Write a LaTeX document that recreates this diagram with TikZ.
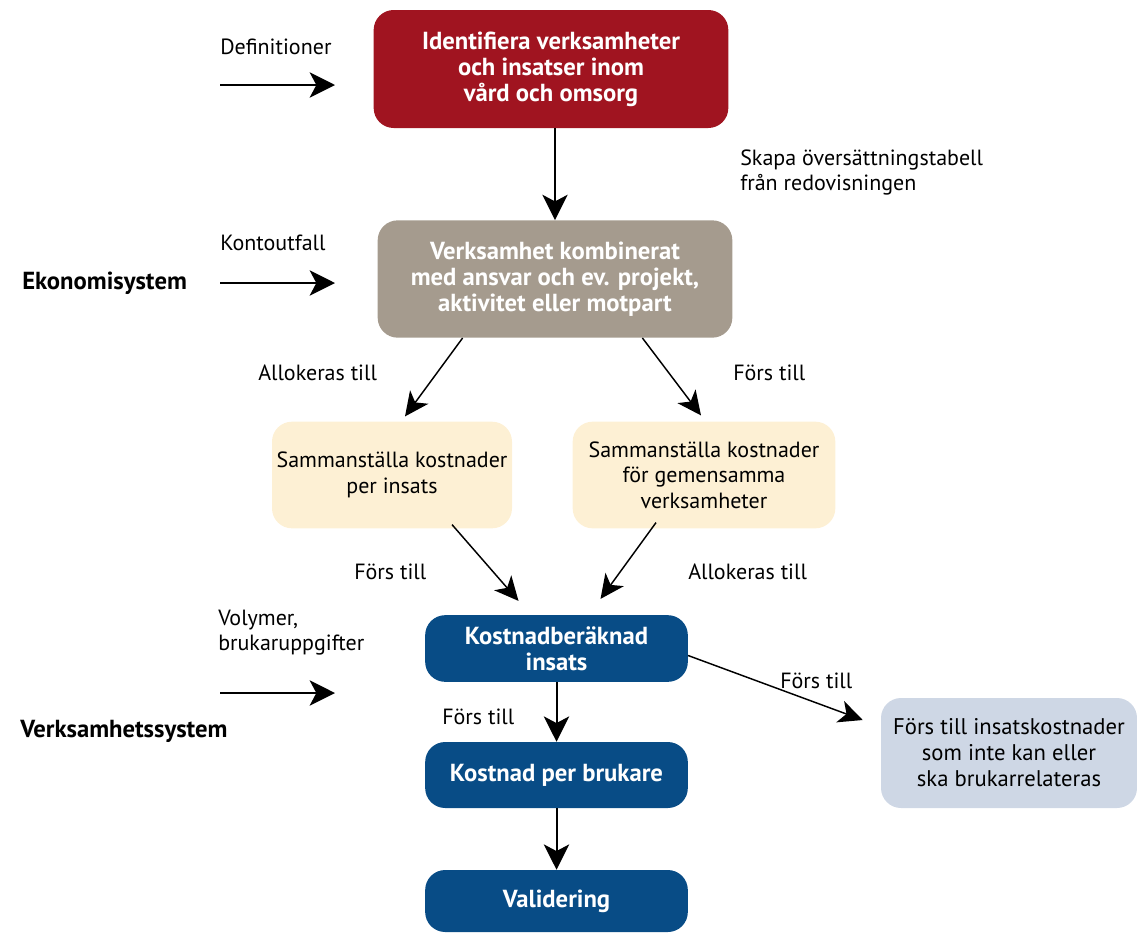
\documentclass[tikz,border=0pt]{standalone}
\usepackage{fontspec}
\setmainfont{PT Sans}
\usepackage{xcolor}
\usepackage{tikz}
\usetikzlibrary{arrows.meta}
\usetikzlibrary{calc}
\usetikzlibrary{positioning}
\definecolor{boxred}{RGB}{160,20,32}
\definecolor{boxtaupe}{RGB}{165,155,142}
\definecolor{boxcream}{RGB}{253,240,212}
\definecolor{boxblue}{RGB}{8,76,134}
\definecolor{boxgrey}{RGB}{206,215,229}

\begin{document}
\begin{tikzpicture}[x=0.75pt,y=-0.75pt,
	box/.style={rounded corners=15pt,align=center,inner sep=2pt,font=\fontsize{18.5}{19.5}\selectfont\bfseries,text=white},
	softbox/.style={rounded corners=15pt,align=center,inner sep=2pt,font=\fontsize{16.5}{19}\selectfont,text=black},
	lab/.style={font=\fontsize{16.5}{18.5}\selectfont,align=left,inner sep=0pt},
	sys/.style={font=\fontsize{18.5}{20}\selectfont\bfseries,inner sep=0pt},
	arr/.style={line width=1.5pt,-{Stealth[length=19pt,width=19pt,inset=5pt]}},
	darr/.style={line width=1.1pt,-{Stealth[length=18pt,width=17pt,inset=5pt]}}]
	\useasboundingbox (0,0) rectangle (1137,932);
	
	\node [box,fill=boxred,minimum width=266pt,minimum height=88.5pt] (ident) at (551,69) {Identifiera verksamheter\\och insatser inom\\vård och omsorg};
	\node [box,fill=boxtaupe,minimum width=266pt,minimum height=88pt] (verks) at (555,279) {Verksamhet kombinerat\\med ansvar och ev. projekt,\\aktivitet eller motpart};
	\node [softbox,fill=boxcream,minimum width=180pt,minimum height=80pt] (sumA) at (392,475) {Sammanställa kostnader\\per insats};
	\node [softbox,fill=boxcream,minimum width=197pt,minimum height=80pt] (sumB) at (704,475) {Sammanställa kostnader\\för gemensamma\\verksamheter};
	\node [box,fill=boxblue,minimum width=197pt,minimum height=50pt] (kalk) at (556.5,648.5) {Kostnadberäknad\\insats};
	\node [box,fill=boxblue,minimum width=197pt,minimum height=49.5pt] (brukare) at (556.5,775) {Kostnad per brukare};
	\node [box,fill=boxblue,minimum width=197pt,minimum height=46.5pt] (valid) at (556.5,901) {Validering};
	\node [softbox,fill=boxgrey,minimum width=192pt,minimum height=82.5pt,font=\fontsize{17}{19.5}\selectfont] (rest) at (1009,753) {Förs till insatskostnader\\som inte kan eller\\ska brukarrelateras};
	
	% inflows from the left
	\coordinate [] (D1) at (220,85);
	\coordinate [] (D2) at (335,85);
	\coordinate [] (K1) at (220,283);
	\coordinate [] (K2) at (335,283);
	\coordinate [] (V1) at (220,693);
	\coordinate [] (V2) at (335,693);
	\draw[arr] (D1) -- (D2);
	\draw[arr] (K1) -- (K2);
	\draw[arr] (V1) -- (V2);
	\node [lab,anchor=west] (defin) at (220,47) {Definitioner};
	\node [lab,anchor=west] (konto) at (220,243) {Kontoutfall};
	\node [lab,anchor=north west] (volym) at (218,610) {Volymer,\\brukaruppgifter};
	\node [sys,anchor=west] (ekon) at (22,283) {Ekonomisystem};
	\node [sys,anchor=west] (vsys) at (20,731) {Verksamhetssystem};
	\node [lab,anchor=north west] (skapa) at (740,150) {Skapa översättningstabell\\från redovisningen};
	
	\draw[arr] (verks.north |- ident.south) -- (verks.north);
	\draw[darr] ($(verks.south west)!.24!(verks.south east)$) -- ($(sumA.north)+(13,-5)$);
	\draw[darr] ($(verks.south west)!.746!(verks.south east)$) -- ($(sumB.north)+(-3,-6)$);
	\draw[darr] ($(sumA.south)+(60,-4)$) -- ($(kalk.north)+(-38,-14)$);
	\draw[darr] ($(sumB.south)+(-48,-6)$) -- ($(kalk.north)+(44,-16)$);
	\draw[arr] (kalk) -- (brukare);
	\draw[arr] (brukare) -- (valid);
	\draw[darr] ($(kalk.east)+(0,7)$) -- ($(rest.west)+(-18,-33)$);
	
	\node [lab,anchor=west] (allokA) at (258,373) {Allokeras till};
	\node [lab,anchor=west] (forsA) at (733,373) {Förs till};
	\node [lab,anchor=west] (forsB) at (354,572) {Förs till};
	\node [lab,anchor=west] (allokB) at (688,572) {Allokeras till};
	\node [lab,anchor=west] (forsC) at (442,717) {Förs till};
	\node [lab,anchor=west] (forsD) at (780,681) {Förs till};
\end{tikzpicture}
\end{document}
